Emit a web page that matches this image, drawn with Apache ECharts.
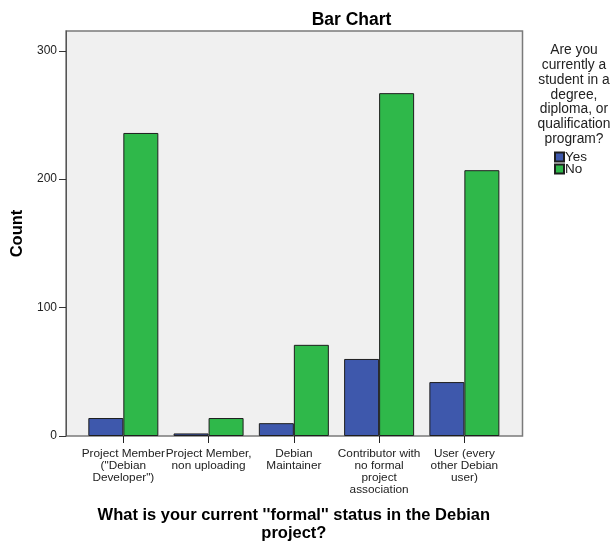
<!DOCTYPE html>
<html>
<head>
<meta charset="utf-8">
<script src="https://cdn.jsdelivr.net/npm/echarts@6/dist/echarts.min.js"></script>
<style>
  html, body { margin: 0; padding: 0; background: #fff; }
  #chart { width: 610px; height: 543px; }
</style>
</head>
<body>
<div id="chart"></div>
<script>
const categories = [
  'Project Member\n("Debian\nDeveloper")',
  'Project Member,\nnon uploading',
  'Debian\nMaintainer',
  'Contributor with\nno formal\nproject\nassociation',
  'User (every\nother Debian\nuser)'
];
const seriesNames = ['Yes', 'No'];
const yesValues = [14, 2, 10, 60, 42];
const noValues = [236, 14, 71, 267, 207];
const yTicks = [0, 100, 200, 300];
const yMax = 315.4;

const FONT = '"Liberation Sans", Arial, sans-serif';

const chart = echarts.init(document.getElementById('chart'), null, { renderer: 'canvas' });

const option = {
  animation: false,
  backgroundColor: '#ffffff',
  textStyle: { fontFamily: FONT },
  title: [
    {
      text: 'Bar Chart',
      left: 346.5,
      textAlign: 'center',
      top: 6,
      textStyle: { fontFamily: FONT, fontSize: 17.5, fontWeight: 'bold', color: '#000' }
    },
    {
      text: 'Are you\ncurrently a\nstudent in a\ndegree,\ndiploma, or\nqualification\nprogram?',
      left: 569,
      textAlign: 'center',
      top: 38,
      textStyle: { fontFamily: FONT, fontSize: 13.8, fontWeight: 'normal', color: '#222', lineHeight: 14.8 }
    }
  ],
  legend: {
    orient: 'vertical',
    left: 549,
    top: 145,
    itemWidth: 9,
    itemHeight: 9,
    itemGap: -2,
    icon: 'rect',
    data: seriesNames,
    textStyle: { fontFamily: FONT, fontSize: 13.5, color: '#222', lineHeight: 11, padding: [0, 0, 0, -4] }
  },
  grid: [
    {
      left: 66, right: 87.5, top: 31, bottom: 107,
      outerBoundsMode: 'none',
      containLabel: false,
      show: true,
      backgroundColor: '#f0f0f0',
      borderColor: '#7a7a7a',
      borderWidth: 1.5,
      z: 0
    },
    {
      left: 80.7, right: 103, top: 31, bottom: 107,
      outerBoundsMode: 'none',
      containLabel: false
    }
  ],
  xAxis: [
    {
      gridIndex: 0, type: 'value', show: false, min: 0, max: 1
    },
    {
      gridIndex: 1,
      type: 'category',
      data: categories,
      axisLine: { show: false },
      axisTick: { show: true, alignWithLabel: true, length: 7, lineStyle: { color: '#222' } },
      axisLabel: {
        interval: 0, fontFamily: FONT, fontSize: 11.8, lineHeight: 12, color: '#222', margin: 12, align: 'center'
      },
      name: "What is your current ''formal'' status in the Debian\nproject?",
      nameLocation: 'middle',
      nameGap: 71,
      nameTextStyle: { fontFamily: FONT, fontSize: 16.5, fontWeight: 'bold', color: '#000', lineHeight: 17.5 }
    }
  ],
  yAxis: [
    {
      gridIndex: 0,
      type: 'value',
      min: 0,
      max: yMax,
      interval: 100,
      splitLine: { show: false },
      axisLine: { show: true, lineStyle: { color: '#555' } },
      axisTick: { show: true, length: 7, lineStyle: { color: '#333' }, customValues: yTicks },
      axisLabel: { fontFamily: FONT, fontSize: 12, color: '#222', margin: 9, customValues: yTicks },
      name: 'Count',
      nameLocation: 'middle',
      nameRotate: 90,
      nameGap: 39,
      nameTextStyle: { fontFamily: FONT, fontSize: 16.5, fontWeight: 'bold', color: '#000' }
    },
    {
      gridIndex: 1,
      type: 'value',
      min: 0,
      max: yMax,
      show: false,
      splitLine: { show: false }
    }
  ],
  series: [
    {
      name: seriesNames[0],
      type: 'bar',
      xAxisIndex: 1,
      yAxisIndex: 1,
      data: yesValues,
      barWidth: 35,
      barGap: '0%',
      itemStyle: { color: '#3e58ac', borderColor: '#1e1e1e', borderWidth: 1 }
    },
    {
      name: seriesNames[1],
      type: 'bar',
      xAxisIndex: 1,
      yAxisIndex: 1,
      data: noValues,
      barWidth: 35,
      barGap: '0%',
      itemStyle: { color: '#2fb84a', borderColor: '#1e1e1e', borderWidth: 1 }
    }
  ]
};

chart.setOption(option);
</script>
</body>
</html>
